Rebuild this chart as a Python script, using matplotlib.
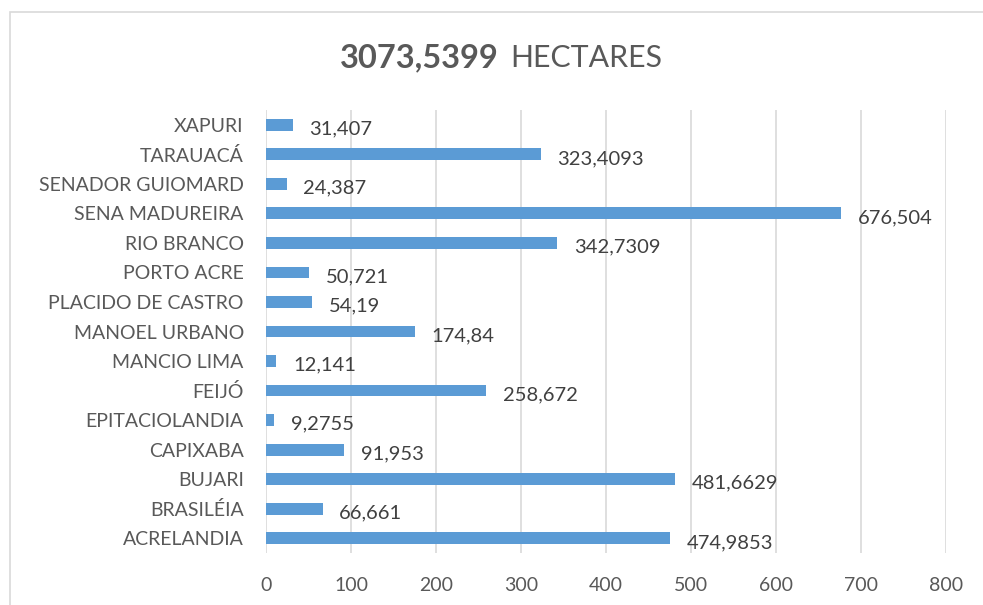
import matplotlib
matplotlib.use("Agg")
import matplotlib.pyplot as plt
from matplotlib.patches import Rectangle

categories = ["ACRELANDIA", "BRASILÉIA", "BUJARI", "CAPIXABA", "EPITACIOLANDIA",
              "FEIJÓ", "MANCIO LIMA", "MANOEL URBANO", "PLACIDO DE CASTRO",
              "PORTO ACRE", "RIO BRANCO", "SENA MADUREIRA", "SENADOR GUIOMARD",
              "TARAUACÁ", "XAPURI"]
values = [474.9853, 66.661, 481.6629, 91.953, 9.2755, 258.672, 12.141, 174.84,
          54.19, 50.721, 342.7309, 676.504, 24.387, 323.4093, 31.407]
value_labels = ["474,9853", "66,661", "481,6629", "91,953", "9,2755", "258,672",
                "12,141", "174,84", "54,19", "50,721", "342,7309", "676,504",
                "24,387", "323,4093", "31,407"]
xticks = [0, 100, 200, 300, 400, 500, 600, 700, 800]
title_bold = "3073,5399"
title_rest = "HECTARES"

FONT = ["Lato", "DejaVu Sans"]
TXT = "#595959"
BAR = "#5B9BD5"
GRID = "#D9D9D9"

W, H = 983, 605
fig = plt.figure(figsize=(W / 100, H / 100), dpi=100)
fig.patch.set_facecolor("white")

# chart border
fig.patches.append(Rectangle((10 / W, -0.05), 1.1, 1 - 12 / H + 0.05,
                             transform=fig.transFigure, fill=False,
                             edgecolor="#D9D9D9", linewidth=1.2))

ax = fig.add_axes([266 / W, 1 - 553 / H, (946 - 266) / W, (553 - 110) / H])
y = list(range(len(categories)))
ax.barh(y, values, height=0.4, color=BAR, zorder=3)
ax.set_xlim(0, 800)
ax.set_ylim(-0.5, len(categories) - 0.5)
ax.set_xticks(xticks)
ax.set_xticklabels([str(t) for t in xticks], fontsize=14, color=TXT, family=FONT)
ax.set_yticks(y)
ax.set_yticklabels(categories, fontsize=14, color=TXT, family=FONT)
ax.tick_params(axis="both", length=0)
ax.tick_params(axis="x", pad=17)
ax.tick_params(axis="y", pad=16)
ax.grid(axis="x", color=GRID, linewidth=1.2, zorder=0)
for s in ax.spines.values():
    s.set_visible(False)

for yi, v, lab in zip(y, values, value_labels):
    ax.annotate(lab, (v, yi), xytext=(12, -3), textcoords="offset points",
                ha="left", va="center", fontsize=14.5, color="#404040", family=FONT)

fig.text(499 / W, 1 - 58 / H, title_bold, ha="right", va="center",
         fontsize=23.5, fontweight="bold", color=TXT, family=FONT)
fig.text(510 / W, 1 - 58 / H, title_rest, ha="left", va="center",
         fontsize=21.8, color=TXT, family=FONT)

fig.savefig("out.png", dpi=100)
